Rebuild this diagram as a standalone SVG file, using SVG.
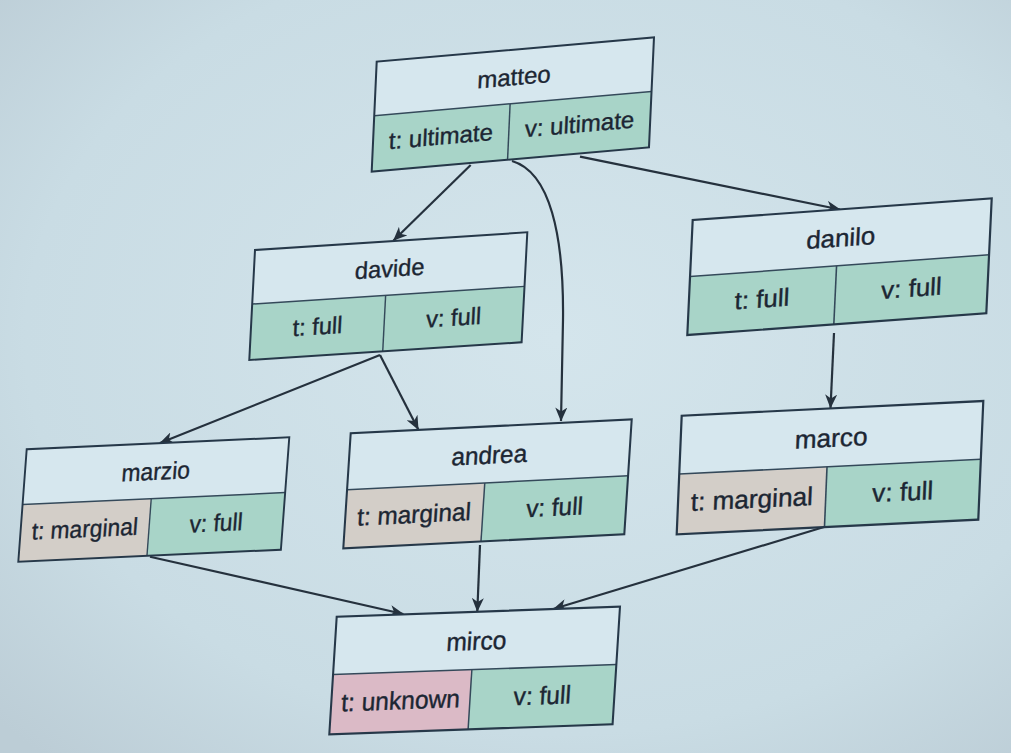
<svg xmlns="http://www.w3.org/2000/svg" width="1011" height="753" viewBox="0 0 1011 753">
<defs>
<radialGradient id="bg" cx="0.55" cy="0.45" r="0.75">
<stop offset="0" stop-color="#d4e5ec"/>
<stop offset="0.7" stop-color="#c9dce4"/>
<stop offset="1" stop-color="#bccdd6"/>
</radialGradient>
<marker id="arr" viewBox="0 0 14 12" refX="13.5" refY="6" markerWidth="14" markerHeight="12" orient="auto" markerUnits="userSpaceOnUse">
<path d="M0,0 L14,6 L0,12 L4,6 z" fill="#25313d"/>
</marker>
<style>
.hdr{fill:#d6e7ee}
.full{fill:#a8d4c8}
.marg{fill:#d3cec8}
.unk{fill:#dbbac6}
.out{fill:none;stroke:#263849;stroke-width:2.2}
.div{stroke:#34495a;stroke-width:1.6}
.name,.cell{font-family:"Liberation Sans",Arial,sans-serif;font-size:26px;fill:#1c2633;stroke:#1c2633;stroke-width:0.4;text-anchor:middle}
.edge{fill:none;stroke:#25313d;stroke-width:2.2;marker-end:url(#arr)}
</style>
</defs>
<rect width="1011" height="753" fill="url(#bg)"/>

<g id="connectors">
<path class="edge" d="M470.7,165 L393.5,240.5"/>
<path class="edge" d="M512,161 C550,172 564,235 563,320 L561,421"/>
<path class="edge" d="M580,156.7 L840,209.5"/>
<path class="edge" d="M380,355 L160,443"/>
<path class="edge" d="M380,355 L418.3,429.5"/>
<path class="edge" d="M834,333 L830.5,408"/>
<path class="edge" d="M150,556.7 L403.3,614"/>
<path class="edge" d="M480,545 L477.3,611.5"/>
<path class="edge" d="M824,527 L553.3,609"/>
</g>

<g id="matteo" transform="matrix(0.9243,-0.0813,-0.0417,0.9167,376.7,61.7)">
<rect class="hdr" width="300" height="59"/>
<rect class="full" y="59" width="147" height="61"/>
<rect class="full" x="147" y="59" width="153" height="61"/>
<line class="div" x1="0" y1="59" x2="300" y2="59"/>
<line class="div" x1="147" y1="59" x2="147" y2="120"/>
<rect class="out" width="300" height="120"/>
<text class="name" x="150" y="39">matteo</text>
<text class="cell" x="73.5" y="97">t: ultimate</text>
<text class="cell" x="223.5" y="97">v: ultimate</text>
</g>

<g id="davide" transform="matrix(0.9077,-0.059,-0.0475,0.9167,255,250)">
<rect class="hdr" width="300" height="59"/>
<rect class="full" y="59" width="147" height="61"/>
<rect class="full" x="147" y="59" width="153" height="61"/>
<line class="div" x1="0" y1="59" x2="300" y2="59"/>
<line class="div" x1="147" y1="59" x2="147" y2="120"/>
<rect class="out" width="300" height="120"/>
<text class="name" x="150" y="39">davide</text>
<text class="cell" x="73.5" y="97">t: full</text>
<text class="cell" x="223.5" y="97">v: full</text>
</g>

<g id="danilo" transform="matrix(0.9967,-0.0723,-0.045,0.9583,692.7,220)">
<rect class="hdr" width="300" height="59"/>
<rect class="full" y="59" width="147" height="61"/>
<rect class="full" x="147" y="59" width="153" height="61"/>
<line class="div" x1="0" y1="59" x2="300" y2="59"/>
<line class="div" x1="147" y1="59" x2="147" y2="120"/>
<rect class="out" width="300" height="120"/>
<text class="name" x="150" y="39">danilo</text>
<text class="cell" x="73.5" y="97">t: full</text>
<text class="cell" x="223.5" y="97">v: full</text>
</g>

<g id="marzio" transform="matrix(0.8753,-0.04,-0.07,0.9367,26.7,449.3)">
<rect class="hdr" width="300" height="59"/>
<rect class="marg" y="59" width="147" height="61"/>
<rect class="full" x="147" y="59" width="153" height="61"/>
<line class="div" x1="0" y1="59" x2="300" y2="59"/>
<line class="div" x1="147" y1="59" x2="147" y2="120"/>
<rect class="out" width="300" height="120"/>
<text class="name" x="150" y="39">marzio</text>
<text class="cell" x="73.5" y="97">t: marginal</text>
<text class="cell" x="223.5" y="97">v: full</text>
</g>

<g id="andrea" transform="matrix(0.9367,-0.0467,-0.0617,0.9583,350.7,433.3)">
<rect class="hdr" width="300" height="59"/>
<rect class="marg" y="59" width="147" height="61"/>
<rect class="full" x="147" y="59" width="153" height="61"/>
<line class="div" x1="0" y1="59" x2="300" y2="59"/>
<line class="div" x1="147" y1="59" x2="147" y2="120"/>
<rect class="out" width="300" height="120"/>
<text class="name" x="150" y="39">andrea</text>
<text class="cell" x="73.5" y="97">t: marginal</text>
<text class="cell" x="223.5" y="97">v: full</text>
</g>

<g id="marco" transform="matrix(1.0053,-0.049,-0.0417,0.9883,681.7,415.7)">
<rect class="hdr" width="300" height="59"/>
<rect class="marg" y="59" width="147" height="61"/>
<rect class="full" x="147" y="59" width="153" height="61"/>
<line class="div" x1="0" y1="59" x2="300" y2="59"/>
<line class="div" x1="147" y1="59" x2="147" y2="120"/>
<rect class="out" width="300" height="120"/>
<text class="name" x="150" y="39">marco</text>
<text class="cell" x="73.5" y="97">t: marginal</text>
<text class="cell" x="223.5" y="97">v: full</text>
</g>

<g id="mirco" transform="matrix(0.9443,-0.0333,-0.0617,0.98,336.7,616.7)">
<rect class="hdr" width="300" height="59"/>
<rect class="unk" y="59" width="147" height="61"/>
<rect class="full" x="147" y="59" width="153" height="61"/>
<line class="div" x1="0" y1="59" x2="300" y2="59"/>
<line class="div" x1="147" y1="59" x2="147" y2="120"/>
<rect class="out" width="300" height="120"/>
<text class="name" x="150" y="39">mirco</text>
<text class="cell" x="73.5" y="97">t: unknown</text>
<text class="cell" x="223.5" y="97">v: full</text>
</g>
</svg>
